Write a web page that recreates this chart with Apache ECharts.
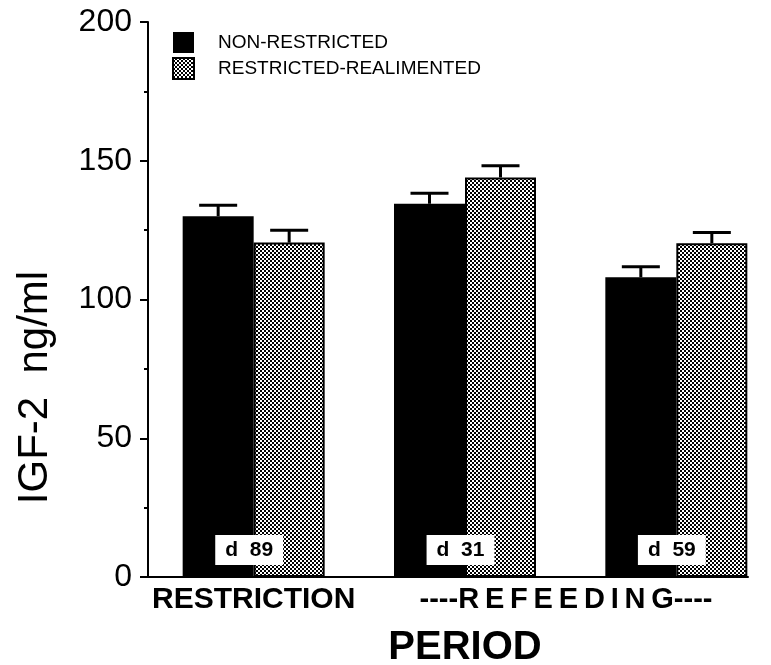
<!DOCTYPE html>
<html>
<head>
<meta charset="utf-8">
<script src="https://cdn.jsdelivr.net/npm/echarts@6/dist/echarts.min.js"></script>
<style>
  html, body { margin: 0; padding: 0; background: #fff; }
  #chart { width: 771px; height: 665px; }
</style>
</head>
<body>
<div id="chart"></div>
<script>
// Sampling day of each period and the period it belongs to
const days = [89, 31, 59];
const periods = ['RESTRICTION', 'REFEEDING', 'REFEEDING'];

// Serum IGF-2 (ng/ml), mean and standard error
const nonRestricted = [130, 134.5, 108];
const nonRestrictedSE = [4, 3.8, 3.8];
const realimented = [120.5, 144, 120.3];
const realimentedSE = [4.5, 4.2, 3.8];

// Y axis range and step
const yMin = 0, yMax = 200, yStep = 50;

const seriesNames = ['NON-RESTRICTED', 'RESTRICTED-REALIMENTED'];
const categories = days.map(d => 'd ' + d);

const FONT = "'Liberation Sans', Arial, Helvetica, sans-serif";
const BAR_W = 71;

// Fine black/white checker used for the realimented group
const tile = document.createElement('canvas');
tile.width = 4; tile.height = 4;
const tctx = tile.getContext('2d');
tctx.fillStyle = '#000'; tctx.fillRect(0, 0, 4, 4);
tctx.fillStyle = '#fff'; tctx.fillRect(0, 0, 2, 2); tctx.fillRect(2, 2, 2, 2);
const checker = { image: tile, repeat: 'repeat' };

// Error bar ("T" above the bar) drawn from mean + SE
function errorBar(offset) {
  return function (params, api) {
    const i = api.value(0);
    const top = api.coord([i, api.value(1)]);
    const cap = api.coord([i, api.value(1) + api.value(2)]);
    const x = top[0] + offset;
    const style = { stroke: '#000', lineWidth: 3 };
    return {
      type: 'group',
      children: [
        { type: 'line', shape: { x1: x, y1: top[1], x2: x, y2: cap[1] }, style },
        { type: 'line', shape: { x1: x - 19, y1: cap[1], x2: x + 19, y2: cap[1] }, style }
      ]
    };
  };
}

const refeedLabel = '----' + periods[1].split('').join('\u2009') + '----';

const chart = echarts.init(document.getElementById('chart'), null, { renderer: 'canvas' });
chart.setOption({
  animation: false,
  backgroundColor: '#fff',
  textStyle: { fontFamily: FONT, color: '#000' },
  legend: {
    orient: 'vertical',
    left: 172,
    top: 32,
    padding: 0,
    itemWidth: 21,
    itemHeight: 21,
    itemGap: 4,
    icon: 'rect',
    data: seriesNames,
    textStyle: { fontSize: 19, color: '#000', fontFamily: FONT, padding: [0, 0, 0, 19] }
  },
  grid: [
    { left: 148, top: 22, width: 634, bottom: 88, outerBoundsMode: 'none', containLabel: false },
    { left: 148, top: 22, width: 600, bottom: 88, outerBoundsMode: 'none', containLabel: false }
  ],
  xAxis: [
    {
      type: 'category',
      gridIndex: 0,
      data: categories,
      axisLine: { show: false },
      axisTick: { show: false },
      axisLabel: {
        interval: 0,
        margin: 8,
        formatter: function (v, idx) {
          if (idx === 0) return '{a|' + periods[0] + '}';
          if (idx === 1) return '{b|' + refeedLabel + '}';
          return '';
        },
        rich: {
          a: { fontSize: 30, fontWeight: 'bold', fontFamily: FONT, color: '#000' },
          b: { fontSize: 29, fontWeight: 'bold', fontFamily: FONT, color: '#000', padding: [0, 0, 0, 202] }
        }
      },
      name: 'PERIOD',
      nameLocation: 'middle',
      nameGap: 51,
      nameMoveOverlap: false,
      nameTextStyle: { fontSize: 40, fontWeight: 'bold', fontFamily: FONT, color: '#000' }
    },
    {
      type: 'value',
      gridIndex: 1,
      min: 0,
      max: 1,
      axisLine: { show: true, lineStyle: { color: '#000', width: 2 } },
      axisTick: { show: false },
      axisLabel: { show: false },
      splitLine: { show: false }
    }
  ],
  yAxis: [
    {
      type: 'value',
      gridIndex: 0,
      min: yMin,
      max: yMax,
      interval: yStep,
      axisLine: { show: true, lineStyle: { color: '#000', width: 2 } },
      axisTick: { show: true, length: 8, lineStyle: { color: '#000', width: 2 } },
      minorTick: { show: true, splitNumber: 2, length: 4, lineStyle: { color: '#000', width: 2 } },
      splitLine: { show: false },
      axisLabel: { fontSize: 32, color: '#000', fontFamily: FONT, margin: 16 },
      name: 'IGF-2  ng/ml',
      nameLocation: 'middle',
      nameGap: 92,
      nameMoveOverlap: false,
      nameTextStyle: { fontSize: 42, color: '#000', fontFamily: FONT, padding: [0, 176, 0, 0] }
    },
    { type: 'value', gridIndex: 1, min: 0, max: 1, show: false }
  ],
  series: [
    {
      name: seriesNames[0],
      type: 'bar',
      xAxisIndex: 0, yAxisIndex: 0,
      barWidth: BAR_W,
      barGap: '0%',
      data: nonRestricted,
      itemStyle: { color: '#000' },
      label: {
        show: true,
        position: 'insideBottom',
        distance: 11,
        offset: [31, -1],
        formatter: p => 'd  ' + days[p.dataIndex],
        backgroundColor: '#fff',
        padding: [5, 10, 4, 10],
        fontSize: 21,
        fontWeight: 'bold',
        fontFamily: FONT,
        color: '#000'
      },
      z: 2
    },
    {
      name: seriesNames[1],
      type: 'bar',
      xAxisIndex: 0, yAxisIndex: 0,
      barWidth: BAR_W,
      barGap: '0%',
      data: realimented,
      itemStyle: { color: checker, borderColor: '#000', borderWidth: 2 },
      z: 1
    },
    {
      type: 'custom',
      xAxisIndex: 0, yAxisIndex: 0,
      renderItem: errorBar(-BAR_W / 2),
      data: nonRestricted.map((v, i) => [i, v, nonRestrictedSE[i]]),
      z: 3,
      silent: true
    },
    {
      type: 'custom',
      xAxisIndex: 0, yAxisIndex: 0,
      renderItem: errorBar(BAR_W / 2),
      data: realimented.map((v, i) => [i, v, realimentedSE[i]]),
      z: 3,
      silent: true
    }
  ]
});
</script>
</body>
</html>
